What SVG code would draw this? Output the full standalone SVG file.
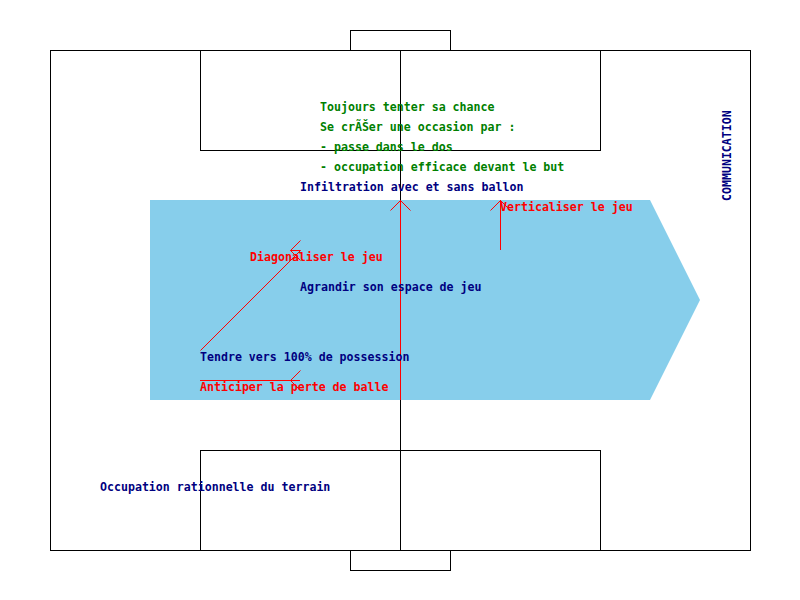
<svg xmlns="http://www.w3.org/2000/svg" width="800" height="600" viewBox="0 0 800 600">
<style>
.ln{fill:none;stroke:#000;stroke-width:1}
.rd{fill:none;stroke:#f00;stroke-width:1}
text{font-family:"DejaVu Sans Mono","Liberation Mono",monospace;font-weight:bold;font-size:11.6px}
.g{fill:#008000}
.b{fill:#000080}
.r{fill:#f00}
</style>
<rect width="800" height="600" fill="#fff"/>
<g id="pitch" shape-rendering="crispEdges">
<rect class="ln" x="50.5" y="50.5" width="700" height="500"/>
<rect class="ln" x="350.5" y="30.5" width="100" height="20"/>
<rect class="ln" x="350.5" y="550.5" width="100" height="20"/>
<rect class="ln" x="200.5" y="50.5" width="400" height="100"/>
<rect class="ln" x="200.5" y="450.5" width="400" height="100"/>
</g>
<g id="zone">
<polygon points="150,200 650,200 700,300 650,400 150,400" fill="#87ceeb"/>
</g>
<g id="centerline" shape-rendering="crispEdges">
<line class="ln" x1="400.5" y1="50" x2="400.5" y2="550"/>
</g>
<g id="connectors">
<line class="rd" x1="400.5" y1="400" x2="400.5" y2="200" shape-rendering="crispEdges"/>
<polyline class="rd" points="390.5,210.5 400.5,200.5 410.5,210.5"/>
<line class="rd" x1="500.5" y1="250" x2="500.5" y2="200" shape-rendering="crispEdges"/>
<polyline class="rd" points="490.5,210.5 500.5,200.5 510.5,210.5"/>
<line class="rd" x1="200.5" y1="350.5" x2="300.5" y2="250.5"/>
<line class="rd" x1="290.5" y1="250.5" x2="300.5" y2="250.5"/>
<polyline class="rd" points="300.5,240.5 290.5,250.5 300.5,260.5"/>
<line class="rd" x1="200" y1="380.5" x2="300" y2="380.5" shape-rendering="crispEdges"/>
<polyline class="rd" points="300.5,370.5 290.5,380.5 300.5,390.5"/>
</g>
<g id="labels">
<text class="g" x="320" y="111">Toujours tenter sa chance</text>
<text class="g" x="320" y="131">Se crÃŠer une occasion par :</text>
<text class="g" x="320" y="151">- passe dans le dos</text>
<text class="g" x="320" y="171">- occupation efficace devant le but</text>
<text class="b" x="300" y="191">Infiltration avec et sans ballon</text>
<text class="r" x="500" y="211">Verticaliser le jeu</text>
<text class="r" x="250" y="261">Diagonaliser le jeu</text>
<text class="b" x="300" y="291">Agrandir son espace de jeu</text>
<text class="b" x="200" y="361">Tendre vers 100% de possession</text>
<text class="r" x="200" y="391">Anticiper la perte de balle</text>
<text class="b" x="100" y="491">Occupation rationnelle du terrain</text>
<text class="b" transform="translate(731,201) rotate(-90)">COMMUNICATION</text>
</g>
</svg>
